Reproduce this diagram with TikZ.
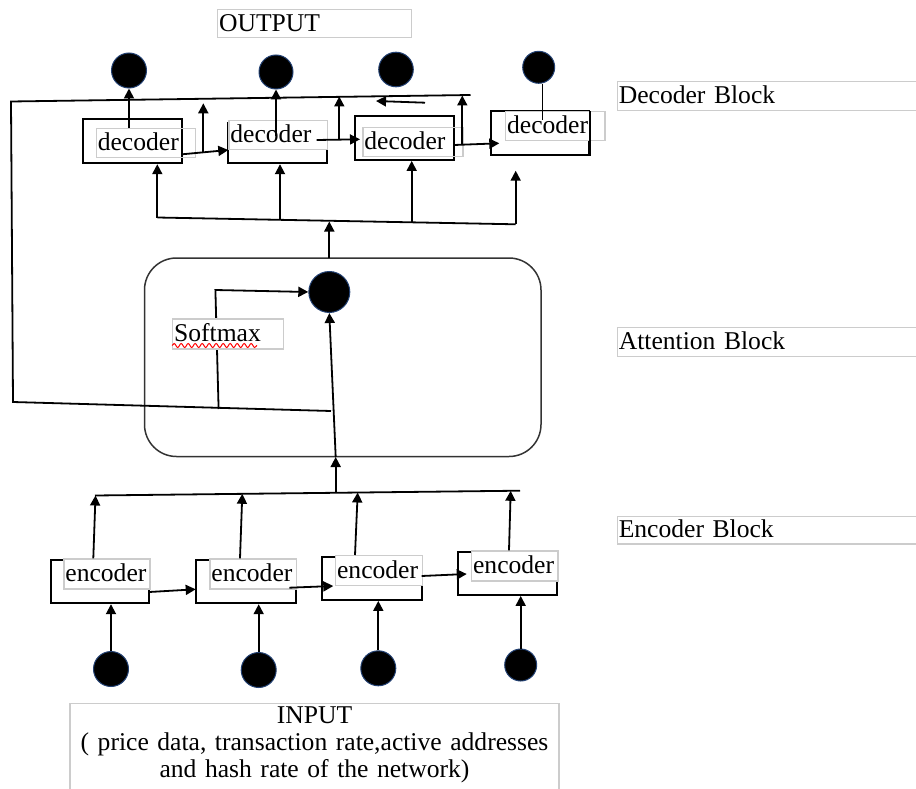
\documentclass[tikz,border=0pt]{standalone}
\usepackage{fontspec}
\setmainfont{Liberation Serif}
\usetikzlibrary{arrows.meta,decorations.pathmorphing}
\definecolor{navy}{RGB}{35,65,115}
\tikzset{
  blkbox/.style={draw=black,line width=1.8pt,inner sep=0pt},
  txtbox/.style={draw=gray!40,line width=1.2pt,inner xsep=1.5pt,inner ysep=0pt,
    text height=19.5pt,text depth=4.5pt,minimum height=29pt,align=left,anchor=north west},
  dot/.style={circle,fill=black,draw=navy,line width=1pt,inner sep=0pt},
  conn/.style={draw=black,line width=1.8pt},
  arr/.style={conn,-{Triangle[length=10pt,width=10pt]}}
}
\begin{document}
\begin{tikzpicture}[x=1pt,y=-1pt,font=\fontsize{25.6}{27}\selectfont]
  \useasboundingbox (0,0) rectangle (916,789);
  \begin{scope}[every node/.style=blkbox]
    \node[minimum width=99.3,minimum height=44] (dec1) at (132.35,141.3) {};
    \node[minimum width=98.4,minimum height=40.3] (dec2) at (277.5,143.15) {};
    \node[minimum width=99,minimum height=44] (dec3) at (404.5,138) {};
    \node[minimum width=98.6,minimum height=44] (dec4) at (540,133) {};
    \node[minimum width=98.6,minimum height=43] (enc1) at (100,581.8) {};
    \node[minimum width=99.7,minimum height=43] (enc2) at (245.85,581.8) {};
    \node[minimum width=99.4,minimum height=43] (enc3) at (372,578.5) {};
    \node[minimum width=99,minimum height=42.7] (enc4) at (507.8,573.65) {};
  \end{scope}
  \node[draw=black!80,line width=1.5pt,rounded corners=32pt,
        minimum width=396.5,minimum height=198.5] (attbox) at (342.75,357.25) {};
  \begin{scope}[every node/.style=dot]
    \node[minimum size=35] (o1) at (129,70.5) {};
    \node[minimum size=34] (o2) at (276,72) {};
    \node[minimum size=34.6] (o3) at (396,69.5) {};
    \node[minimum size=32] (o4) at (538.7,67.3) {};
    \node[minimum size=41] (att) at (329.3,292) {};
    \node[minimum size=35] (i1) at (111,669) {};
    \node[minimum size=35] (i2) at (258.7,670) {};
    \node[minimum size=35] (i3) at (378.3,668.3) {};
    \node[minimum size=32] (i4) at (520.7,665) {};
  \end{scope}
  \coordinate (fbA) at (331,411);
  \coordinate (fbB) at (13,402);
  \coordinate (fbC) at (11,101.5);
  \coordinate (fbD) at (470.5,95);
  \coordinate (back1) at (425,102.7);
  \coordinate (back2) at (376,101);
  \coordinate (d2out) at (276,136);
  \coordinate (d4out) at (542.5,120);
  \coordinate (d12a) at (182,154.3);
  \coordinate (d12b) at (228.3,150);
  \coordinate (up1a) at (203.3,152.5);
  \coordinate (up1b) at (203.3,103.3);
  \coordinate (d23a) at (316.7,140);
  \coordinate (d23b) at (360,139.3);
  \coordinate (up2a) at (339.3,140);
  \coordinate (up2b) at (339.3,96.5);
  \coordinate (d34a) at (454,145);
  \coordinate (d34b) at (499.3,143.3);
  \coordinate (up3a) at (462.3,144);
  \coordinate (up3b) at (462.3,95.5);
  \coordinate (dbusL) at (157.3,217.5);
  \coordinate (dbus2) at (280,219.8);
  \coordinate (dbus3) at (411.7,222.4);
  \coordinate (dbusR) at (515.7,224.3);
  \coordinate (d4in) at (515.7,170.7);
  \coordinate (atop) at (329.3,258);
  \coordinate (abus) at (329.3,221.5);
  \coordinate (sm1) at (218.6,409);
  \coordinate (sm2) at (215.4,290);
  \coordinate (abot) at (335.7,457);
  \coordinate (ebus) at (335.7,492.5);
  \coordinate (ebusL) at (95,495.5);
  \coordinate (ebusR) at (520,490.7);
  \coordinate (e1a) at (93.3,558.3);
  \coordinate (e1b) at (95.5,495.5);
  \coordinate (e2a) at (240,558.3);
  \coordinate (e2b) at (242.3,493.8);
  \coordinate (e3a) at (355,555);
  \coordinate (e3b) at (357.7,492.5);
  \coordinate (e4a) at (509,550.3);
  \coordinate (e4b) at (510.7,490.8);
  \coordinate (e12a) at (149.3,592);
  \coordinate (e12b) at (195.7,589.3);
  \coordinate (e23a) at (289.3,587.7);
  \coordinate (e23b) at (333.3,586);
  \coordinate (e34a) at (421.7,576);
  \coordinate (e34b) at (466.7,574);
  \coordinate (sq1) at (172,345.5);
  \coordinate (sq2) at (257,345.5);
  \draw[arr] (sm1) -- (sm2) -- (att.west);
  \begin{scope}[every node/.style=txtbox]
    \node[text width=191,minimum height=27.4] (out) at (217,9.3) {OUTPUT};
    \node[text width=96] (dec1t) at (95.7,127.7) {decoder};
    \node[text width=95.4,fill=white] (dec2t) at (228.3,120) {decoder};
    \node[text width=97] (dec3t) at (362.3,127.3) {decoder};
    \node[text width=96.3,fill=white] (dec4t) at (505,111) {decoder};
    \node[text width=108,minimum height=30,fill=white] (smax) at (172,318.3) {Softmax};
    \node[text width=83,minimum height=30,fill=white] (enc1t) at (63.3,558.3) {encoder};
    \node[text width=83.4,minimum height=30,fill=white] (enc2t) at (209.3,558.3) {encoder};
    \node[text width=83.7,minimum height=30,fill=white] (enc3t) at (335,555) {encoder};
    \node[text width=83.3,minimum height=30,fill=white] (enc4t) at (471,550.3) {encoder};
    \node[text width=300,minimum height=29.3] (lbldec) at (616.7,80.7) {Decoder Block};
    \node[text width=300,minimum height=29.3] (lblatt) at (616.7,326.7) {Attention Block};
    \node[text width=300,minimum height=27.6] (lblenc) at (616.7,515.7) {Encoder Block};
  \end{scope}
  \draw[conn] ([yshift=-1pt]dec4.north east) -- (dec4.south east);
  \node[draw=gray!40,line width=1.2pt,anchor=north,text width=486,inner xsep=1.5pt,
        inner ysep=3.4pt,align=center,text height=17pt,text depth=72pt] (inp) at (314.5,702.7)
        {INPUT\\( price data, transaction rate,active addresses\\and hash rate of the network)};
  \draw[red,line width=1pt,decorate,decoration={snake,amplitude=2pt,segment length=7pt}] (sq1) -- (sq2);
  \draw[conn] (fbA) -- (fbB) -- (fbC) -- (fbD);
  \draw[conn] (dbusL) -- (dbusR);
  \draw[conn] (ebusL) -- (ebusR);
  \draw[conn] (d4out) -- (d4out |- o4.south);
  \begin{scope}[every edge/.style=arr]
    \path (o1.south |- dec1t.north) edge (o1.south)
          (d2out) edge (o2.south)
          (back1) edge (back2)
          (d12a) edge (d12b)
          (up1a) edge (up1b)
          (d23a) edge (d23b)
          (up2a) edge (up2b)
          (d34a) edge (d34b)
          (up3a) edge (up3b)
          (dbusL) edge (dbusL |- dec1.south)
          (dbus2) edge (dbus2 |- dec2.south)
          (dbus3) edge (dbus3 |- dec3.south)
          (dbusR) edge (d4in)
          (atop) edge (abus)
          (ebus) edge (abot)
          (abot) edge (att.south)
          (e1a) edge (e1b)
          (e2a) edge (e2b)
          (e3a) edge (e3b)
          (e4a) edge (e4b)
          (e12a) edge (e12b)
          (e23a) edge (e23b)
          (e34a) edge (e34b)
          (i1.north) edge (i1.north |- enc1.south)
          (i2.north) edge (i2.north |- enc2.south)
          (i3.north) edge (i3.north |- enc3.south)
          (i4.north) edge (i4.north |- enc4.south);
  \end{scope}
\end{tikzpicture}
\end{document}
